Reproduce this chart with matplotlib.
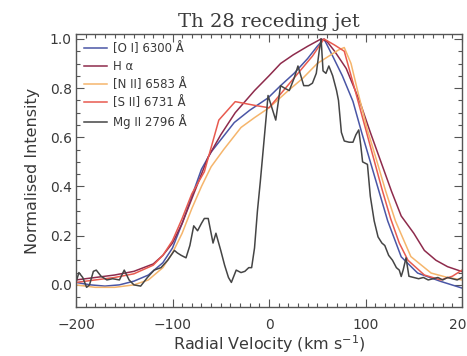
import matplotlib
matplotlib.use("Agg")
import matplotlib.pyplot as plt
from matplotlib.ticker import MultipleLocator, FormatStrFormatter

title = "Th 28 receding jet"
xlabel = "Radial Velocity (km s$^{-1}$)"
ylabel = "Normalised Intensity"

labels = ["[O I] 6300 Å", "H α", "[N II] 6583 Å", "[S II] 6731 Å", "Mg II 2796 Å"]
colors = ["#4a56a6", "#8e2b4c", "#f5b56c", "#e85a4f", "#454545"]

oi_v = [-200, -185, -170, -155, -140, -125, -110, -100, -90, -80, -70, -60, -50, -36, -20, -1,
        12, 26, 40, 50, 57, 66, 76, 87, 96, 105, 114, 123, 137, 154, 178, 200]
oi_i = [0.01, 0.0, -0.005, 0.0, 0.015, 0.04, 0.09, 0.15, 0.25, 0.36, 0.47, 0.54, 0.59, 0.66, 0.71, 0.76,
        0.81, 0.86, 0.92, 0.97, 1.0, 0.93, 0.85, 0.746, 0.62, 0.50, 0.38, 0.26, 0.114, 0.048, 0.014, -0.013]

ha_v = [-200, -180, -160, -140, -120, -110, -100, -90, -80, -70, -63, -50, -35, -15, 0, 12, 25, 40,
        54, 60, 68, 80, 94, 105, 116, 127, 137, 150, 161, 173, 185, 200]
ha_i = [0.02, 0.03, 0.04, 0.055, 0.085, 0.12, 0.17, 0.25, 0.35, 0.45, 0.52, 0.61, 0.70, 0.79, 0.85, 0.90, 0.935, 0.97,
        1.0, 0.99, 0.95, 0.88, 0.746, 0.62, 0.50, 0.38, 0.28, 0.21, 0.14, 0.10, 0.074, 0.054]

nii_v = [-200, -180, -160, -140, -125, -110, -100, -90, -80, -70, -60, -47, -29, -15, 0, 20, 35, 50,
         62, 72, 78, 85, 93, 102, 112, 121, 131, 147, 168, 185, 200]
nii_i = [0.0, -0.01, -0.01, 0.0, 0.02, 0.07, 0.13, 0.21, 0.31, 0.40, 0.48, 0.55, 0.64, 0.68, 0.72, 0.79, 0.84, 0.90,
         0.93, 0.955, 0.965, 0.90, 0.77, 0.63, 0.50, 0.38, 0.26, 0.115, 0.048, 0.03, 0.02]

sii_v = [-200, -180, -160, -140, -120, -110, -100, -90, -80, -67, -52, -35, -15, 0, 15, 30, 45, 57,
         68, 78, 90, 99, 108, 117, 126, 135, 144, 161, 178, 190, 200]
sii_i = [0.01, 0.02, 0.03, 0.045, 0.08, 0.12, 0.18, 0.27, 0.37, 0.46, 0.67, 0.745, 0.73, 0.72, 0.79, 0.86, 0.93, 1.0,
         0.975, 0.95, 0.78, 0.65, 0.52, 0.39, 0.27, 0.17, 0.10, 0.04, 0.02, 0.035, 0.06]

mg_v = [-200, -197, -193, -189, -186, -182, -179, -174, -168, -162,
        -155, -150, -145, -140, -133, -126, -119, -112, -105, -98,
        -95, -91, -86, -82, -78, -74, -70, -67, -63, -58,
        -55, -50, -46, -42, -39, -34, -29, -25, -21, -18,
        -15, -12, -9, -6, -3, -1, 3, 7, 12, 16,
        21, 26, 30, 36, 41, 45, 49, 52, 54, 56,
        59, 62, 66, 70, 72, 75, 78, 83, 87, 90,
        93, 95, 97, 102, 105, 109, 113, 117, 120, 124,
        128, 132, 135, 137, 139, 142, 145, 150, 155, 160,
        165, 170, 175, 180, 185, 190, 195, 200]
mg_i = [0.01, 0.05, 0.03, -0.01, 0.0, 0.055, 0.06, 0.035, 0.02, 0.025,
        0.02, 0.06, 0.02, 0.0, -0.005, 0.03, 0.06, 0.07, 0.10, 0.14,
        0.13, 0.12, 0.11, 0.16, 0.24, 0.22, 0.25, 0.27, 0.27, 0.17,
        0.21, 0.14, 0.08, 0.03, 0.01, 0.06, 0.05, 0.055, 0.07, 0.07,
        0.15, 0.30, 0.42, 0.55, 0.68, 0.77, 0.72, 0.67, 0.81, 0.80,
        0.79, 0.84, 0.89, 0.81, 0.81, 0.82, 0.86, 0.95, 1.0, 0.87,
        0.86, 0.89, 0.85, 0.79, 0.75, 0.62, 0.585, 0.58, 0.58, 0.61,
        0.63, 0.57, 0.50, 0.49, 0.36, 0.26, 0.195, 0.17, 0.16, 0.12,
        0.10, 0.07, 0.06, 0.034, 0.06, 0.11, 0.035, 0.03, 0.025, 0.03,
        0.02, 0.025, 0.03, 0.02, 0.03, 0.025, 0.02, 0.03]

series = [(oi_v, oi_i), (ha_v, ha_i), (nii_v, nii_i), (sii_v, sii_i), (mg_v, mg_i)]

txt = "#3a3a3a"
plt.rcParams['font.family'] = ['DejaVu Sans']
fig = plt.figure(figsize=(4.67, 3.56), dpi=100)
ax = fig.add_axes([76/467, 49/356, 386/467, 273/356])

for (v, i), lab, c in zip(series, labels, colors):
    ax.plot(v, i, color=c, lw=1.1, label=lab)

ax.set_xlim(-200, 200)
ax.set_ylim(-0.09, 1.02)
ax.xaxis.set_major_locator(MultipleLocator(100))
ax.xaxis.set_minor_locator(MultipleLocator(10))
ax.yaxis.set_major_locator(MultipleLocator(0.2))
ax.yaxis.set_minor_locator(MultipleLocator(0.05))
ax.yaxis.set_major_formatter(FormatStrFormatter('%.1f'))
ax.tick_params(which='both', direction='in', top=True, right=True, colors="#555555",
               labelcolor=txt, labelsize=10)
ax.tick_params(which='major', length=6, width=0.8)
ax.tick_params(which='minor', length=3, width=0.8)
ax.tick_params(axis='x', which='major', pad=8)
ax.tick_params(axis='y', which='major', pad=3)
for s in ax.spines.values():
    s.set_color("#555555")
    s.set_linewidth(1.0)

ax.set_xlabel(xlabel, color=txt, fontsize=11.5, labelpad=1)
ax.set_ylabel(ylabel, color=txt, fontsize=11.5, labelpad=7)
ax.set_title(title, color=txt, fontsize=14, family='DejaVu Serif', pad=5)

leg = ax.legend(loc='upper left', bbox_to_anchor=(0.0, 1.0), frameon=False, fontsize=8.5,
                handlelength=1.9, handletextpad=0.55, labelspacing=0.42,
                borderaxespad=0.0, borderpad=0.7)
for t in leg.get_texts():
    t.set_color(txt)

fig.savefig("out.png", dpi=100)
